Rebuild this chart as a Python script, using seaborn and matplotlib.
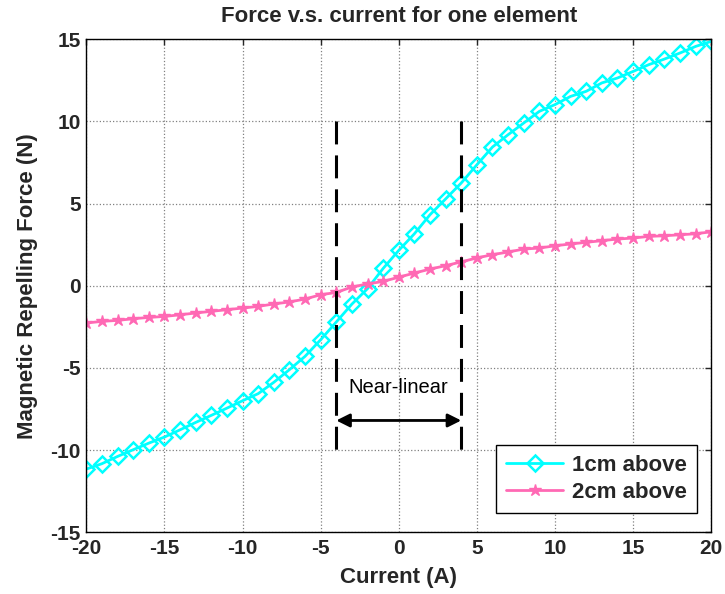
import numpy as np
import pandas as pd
import matplotlib
matplotlib.use("Agg")
import matplotlib.pyplot as plt
import seaborn as sns

current = list(range(-20, 21))
force_1cm = [-11.16, -10.83, -10.39, -9.98, -9.58, -9.21, -8.77, -8.32, -7.89, -7.45,
             -7.00, -6.57, -5.88, -5.11, -4.30, -3.29, -2.21, -1.12, -0.18, 1.05,
             2.15, 3.16, 4.32, 5.28, 6.25, 7.36, 8.44, 9.19, 9.90, 10.61,
             11.02, 11.52, 11.83, 12.34, 12.64, 13.04, 13.45, 13.79, 14.16, 14.56, 14.87]
force_2cm = [-2.27, -2.17, -2.11, -2.01, -1.93, -1.87, -1.77, -1.66, -1.56, -1.46,
             -1.36, -1.26, -1.11, -0.99, -0.81, -0.55, -0.41, -0.08, 0.11, 0.26,
             0.52, 0.77, 1.01, 1.22, 1.45, 1.69, 1.89, 2.05, 2.23, 2.29,
             2.43, 2.54, 2.64, 2.74, 2.84, 2.90, 3.00, 3.04, 3.10, 3.16, 3.28]
series_names = ["1cm above", "2cm above"]
linear_bounds = [-4, 4]

df = pd.DataFrame({
    "Current": current * 2,
    "Force": force_1cm + force_2cm,
    "Series": [series_names[0]] * len(current) + [series_names[1]] * len(current),
})

sns.set_style("white")
plt.rcParams['font.family'] = ['Liberation Sans', 'DejaVu Sans']
plt.rcParams['axes.unicode_minus'] = False

fig = plt.figure(figsize=(7.25, 5.94), dpi=100)
ax = fig.add_axes([0.119, 0.104, 0.862, 0.830])

colors = {"1cm above": "#00FFFF", "2cm above": "#FF69B4"}
sub1 = df[df.Series == series_names[0]]
sub2 = df[df.Series == series_names[1]]
sns.lineplot(data=sub1, x="Current", y="Force", ax=ax, color=colors[series_names[0]],
             lw=2, marker="D", markersize=8, markerfacecolor="none",
             markeredgecolor=colors[series_names[0]], markeredgewidth=1.8,
             label=series_names[0])
sns.lineplot(data=sub2, x="Current", y="Force", ax=ax, color=colors[series_names[1]],
             lw=2, marker="*", markersize=9, markerfacecolor=colors[series_names[1]],
             markeredgecolor=colors[series_names[1]], markeredgewidth=1,
             label=series_names[1])

for xb in linear_bounds:
    ax.plot([xb, xb], [10, -10], color="black", lw=2.2, dashes=(7.5, 3.6), zorder=5)

ax.annotate("", xy=(linear_bounds[0], -8.2), xytext=(linear_bounds[1], -8.2),
            arrowprops=dict(arrowstyle="<|-|>", color="black", lw=2,
                            mutation_scale=20, shrinkA=0, shrinkB=0), zorder=6)
ax.text(0, -6.2, "Near-linear", ha="center", va="center", fontsize=14.5, color="black")

ax.set_xlim(-20, 20)
ax.set_ylim(-15, 15)
ax.set_xticks(range(-20, 21, 5))
ax.set_yticks(range(-15, 16, 5))
ax.tick_params(direction="in", length=4, labelsize=15, top=True, right=True, width=1)
ax.tick_params(axis="x", pad=5)
ax.tick_params(axis="y", pad=4)
for lab in ax.get_xticklabels() + ax.get_yticklabels():
    lab.set_fontweight("bold")
ax.grid(True, color="#808080", linestyle=":", lw=0.9)
for s in ax.spines.values():
    s.set_color("black")
    s.set_linewidth(1)

ax.set_xlabel("Current (A)", fontsize=16, fontweight="bold", labelpad=6)
ax.set_ylabel("Magnetic Repelling Force (N)", fontsize=16, fontweight="bold", labelpad=9)
ax.set_title("Force v.s. current for one element", fontsize=16, fontweight="bold", pad=12.5)

leg = ax.legend(loc="lower right", bbox_to_anchor=(0.9776, 0.0385), borderaxespad=0,
                prop={"weight": "bold", "size": 16}, frameon=True, fancybox=False,
                edgecolor="black", framealpha=1, handlelength=2.6, borderpad=0.45,
                labelspacing=0.3, handletextpad=0.4)
leg.get_frame().set_linewidth(1)

fig.savefig("out.png", dpi=100)
